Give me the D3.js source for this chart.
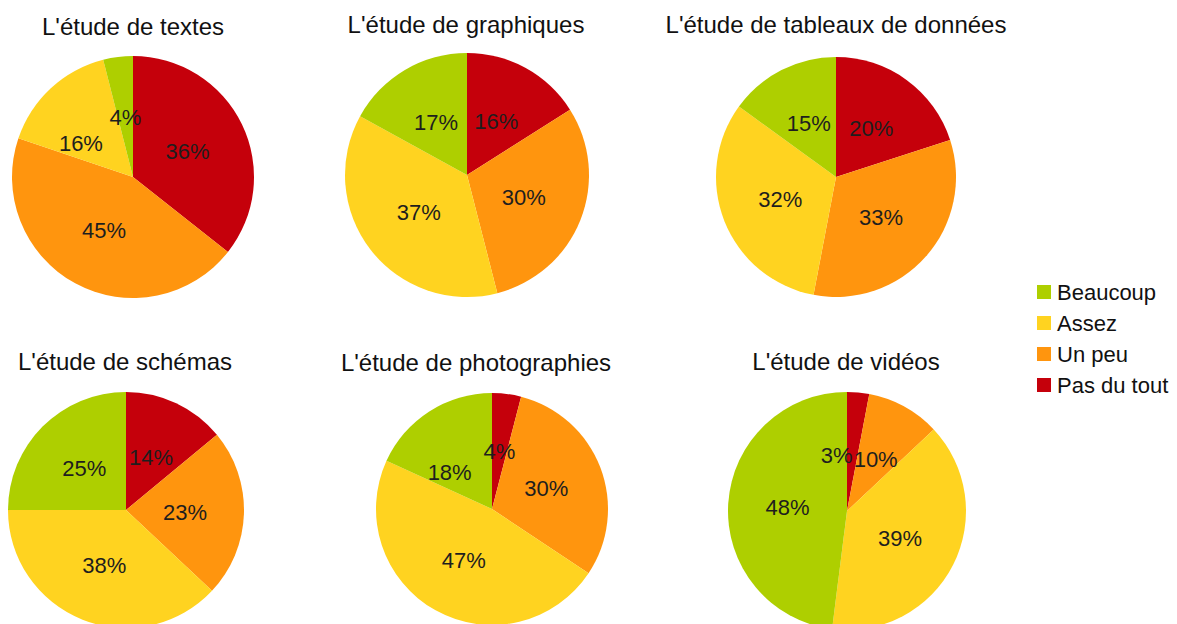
<!DOCTYPE html>
<html>
<head>
<meta charset="utf-8">
<script src="https://cdn.jsdelivr.net/npm/d3@7"></script>
<style>
  body { margin: 0; background: #fff; }
  text { font-family: "Liberation Sans", Arial, sans-serif; }
</style>
</head>
<body>
<script>
// categories, in the order the slices run clockwise from 12 o'clock
const categories = ["Pas du tout", "Un peu", "Assez", "Beaucoup"];
const legendOrder = ["Beaucoup", "Assez", "Un peu", "Pas du tout"];

const titles = [
    "L'étude de textes",
    "L'étude de graphiques",
    "L'étude de tableaux de données",
    "L'étude de schémas",
    "L'étude de photographies",
    "L'étude de vidéos"
];

// values in %, same order as categories
const textes        = [36, 45, 16, 4];
const graphiques    = [16, 30, 37, 17];
const tableaux      = [20, 33, 32, 15];
const schemas       = [14, 23, 38, 25];
const photographies = [4, 30, 47, 18];
const videos        = [3, 10, 39, 48];

const series = [textes, graphiques, tableaux, schemas, photographies, videos];

// where each pie sits on the page
const layout = [
    {cx: 133, cy: 177, r: 121, tx: 133, ty: 35},
    {cx: 467, cy: 175, r: 122, tx: 466, ty: 33},
    {cx: 836, cy: 177, r: 120, tx: 836, ty: 33},
    {cx: 126, cy: 510, r: 118, tx: 125, ty: 370},
    {cx: 492, cy: 509, r: 116, tx: 476, ty: 371},
    {cx: 847, cy: 511, r: 119, tx: 846, ty: 370}
];

// labels that the original moved aside so they don't collide
const labelNudge = {
    "0:Assez": [-11, 10],
    "4:Beaucoup": [-11, 12],
    "5:Pas du tout": [-16, 3]
};

const color = d3.scaleOrdinal()
    .domain(categories)
    .range(["#c5000b", "#ff950e", "#ffd320", "#aecf00"]);

const width = 1177, height = 624;
const svg = d3.select("body").append("svg")
    .attr("width", width)
    .attr("height", height);

const pie = d3.pie().sort(null).value(d => d.value);

series.forEach((vals, i) => {
    const L = layout[i];
    const data = vals.map((v, k) => ({cat: categories[k], value: v}));
    const arcs = pie(data);
    const arc = d3.arc().innerRadius(0).outerRadius(L.r);
    const labelArc = d3.arc().innerRadius(L.r * 0.5).outerRadius(L.r * 0.5);

    const g = svg.append("g")
        .attr("transform", "translate(" + L.cx + "," + L.cy + ")");

    g.selectAll("path")
        .data(arcs)
        .enter().append("path")
        .attr("d", arc)
        .attr("fill", d => color(d.data.cat));

    g.selectAll("text")
        .data(arcs)
        .enter().append("text")
        .attr("transform", d => {
            const c = labelArc.centroid(d);
            const n = labelNudge[i + ":" + d.data.cat] || [0, 0];
            return "translate(" + (c[0] + n[0]) + "," + (c[1] + n[1]) + ")";
        })
        .attr("text-anchor", "middle")
        .attr("dy", "0.36em")
        .style("font-size", "22px")
        .attr("fill", "#1e1e1e")
        .text(d => d.data.value + "%");

    svg.append("text")
        .attr("x", L.tx)
        .attr("y", L.ty)
        .attr("text-anchor", "middle")
        .style("font-size", "24px")
        .attr("fill", "#111")
        .text(titles[i]);
});

// legend
const legend = svg.append("g").attr("transform", "translate(1037,292)");
const item = legend.selectAll("g")
    .data(legendOrder)
    .enter().append("g")
    .attr("transform", (d, i) => "translate(0," + (i * 31) + ")");
item.append("rect")
    .attr("x", 0).attr("y", -7)
    .attr("width", 14).attr("height", 14)
    .attr("fill", d => color(d));
item.append("text")
    .attr("x", 20)
    .attr("dy", "0.36em")
    .style("font-size", "22px")
    .attr("fill", "#111")
    .text(d => d);
</script>
</body>
</html>
